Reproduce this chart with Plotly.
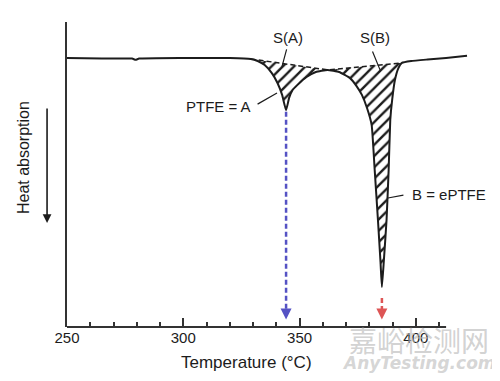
import plotly.graph_objects as go

# ---- data (temperature in °C, heat flow in arbitrary units) ----
temperature = [250, 265, 278, 279.5, 281, 300, 320, 329, 332, 335, 338, 340.5, 342.5, 344.2,
               345.5, 347, 349, 353, 357, 362, 367, 371.7, 374.5, 376.8, 379, 381, 382.3,
               383.7, 384.8, 385.4, 386.2, 387.4, 388.3, 389, 389.8, 391, 392.5, 394, 398,
               405, 413, 422]
heat_flow = [8.82, 8.80, 8.80, 8.76, 8.80, 8.82, 8.82, 8.79, 8.72, 8.59, 8.33, 8.00, 7.61, 7.11,
             7.51, 7.77, 7.93, 8.20, 8.36, 8.43, 8.36, 8.16, 7.90, 7.61, 7.18, 6.62, 5.15,
             3.51, 2.13, 1.31, 2.13, 3.51, 5.15, 6.79, 7.44, 8.10, 8.49, 8.66, 8.72,
             8.77, 8.82, 8.89]

baseline_temp = [329, 362, 394]
baseline_heat = [8.79, 8.43, 8.66]

peak_temp = [344.2, 385.4]          # A = PTFE, B = ePTFE
peak_heat = [7.11, 1.31]
peak_colors = ["#5552c4", "#dd5555"]

major_ticks = [250, 300, 350, 400]
minor_ticks = [260, 270, 280, 290, 310, 320, 330, 340, 360, 370, 380, 390, 410]
axis_start, axis_end = 250, 413
heat_top = 10

FONT = "Arial, Liberation Sans, sans-serif"
INK = "#1c1c1c"
AX = "#333333"


def region(t0, t1, b_t0, b_h0, b_t1, b_h1):
    xs = [t for t in temperature if t0 <= t <= t1]
    ys = [h for t, h in zip(temperature, heat_flow) if t0 <= t <= t1]
    return xs + [b_t1, b_t0, xs[0]], ys + [b_h1, b_h0, ys[0]]


fig = go.Figure()

# hatched areas S(A) and S(B)
for (i0, i1) in [(0, 1), (1, 2)]:
    xs, ys = region(baseline_temp[i0], baseline_temp[i1], baseline_temp[i0], baseline_heat[i0],
                    baseline_temp[i1], baseline_heat[i1])
    fig.add_trace(go.Scatter(
        x=xs, y=ys, mode="lines", fill="toself",
        fillcolor="rgba(255,255,255,0)",
        fillpattern=dict(shape="/", fgcolor=INK, bgcolor="white", size=8, solidity=0.3),
        line=dict(width=0), hoverinfo="skip", showlegend=False))

# dashed interpolated baseline
fig.add_trace(go.Scatter(x=baseline_temp, y=baseline_heat, mode="lines",
                         line=dict(color=INK, width=1.5, dash="5px,3px"), showlegend=False))

# DSC curve
fig.add_trace(go.Scatter(x=temperature, y=heat_flow, mode="lines",
                         line=dict(color=INK, width=2, shape="spline", smoothing=0.4),
                         showlegend=False))

# dashed drop lines from the peaks
drop_start = [peak_heat[0] - 0.05, 0.95]
for t, y0, c in zip(peak_temp, drop_start, peak_colors):
    fig.add_trace(go.Scatter(x=[t, t], y=[y0, 0.4], mode="lines",
                             line=dict(color=c, width=2.5, dash="5px,3px"), showlegend=False))

annotations = []
for t, c in zip(peak_temp, peak_colors):
    annotations.append(dict(x=t, y=0.25, ax=t, ay=0.6, xref="x", yref="y", axref="x", ayref="y",
                            text="", showarrow=True, arrowhead=2, arrowsize=1.1, arrowwidth=2,
                            arrowcolor=c))

# labels and leader lines
lab_font = dict(family=FONT, size=15, color=INK)
annotations += [
    dict(x=345, y=9.48, text="S(A)", showarrow=False, font=lab_font),
    dict(x=382.4, y=9.48, text="S(B)", showarrow=False, font=lab_font),
    dict(x=330.0, y=7.22, text="PTFE = A", showarrow=False, xanchor="right", font=lab_font),
    dict(x=397.5, y=4.33, text="B = ePTFE", showarrow=False, xanchor="left", font=lab_font),
]
leaders = [((344.6, 9.15), (342.4, 8.53)),
           ((381.1, 9.08), (384.6, 8.43)),
           ((331.3, 7.28), (340.3, 7.67)),
           ((395.3, 4.33), (388.0, 4.23))]
for (a, b) in leaders:
    annotations.append(dict(x=b[0], y=b[1], ax=a[0], ay=a[1], axref="x", ayref="y",
                            text="", showarrow=True, arrowhead=0,
                            arrowwidth=1.2, arrowcolor=INK))

# axis titles
annotations += [
    dict(x=327.2, y=-0.115, xref="x", yref="paper", text="Temperature (°C)", showarrow=False,
         xanchor="center", yanchor="middle", font=dict(family=FONT, size=17, color=INK)),
    dict(x=-0.108, y=5.54, xref="paper", yref="y", text="Heat absorption", textangle=-90,
         xanchor="center", yanchor="middle",
         showarrow=False, font=dict(family=FONT, size=16, color=INK)),
    dict(x=-0.049, y=3.41, xref="paper", yref="y", ax=0, ay=-116, text="", showarrow=True,
         arrowhead=2, arrowsize=1.1, arrowwidth=1.6, arrowcolor=INK),
]

# watermark
annotations += [
    dict(x=0.865, y=-0.042, xref="paper", yref="paper", text="嘉峪检测网", showarrow=False,
         xanchor="center", yanchor="middle",
         font=dict(family="Noto Sans CJK SC", size=28, color="rgba(185,185,185,0.65)")),
    dict(x=0.865, y=-0.118, xref="paper", yref="paper", text="<i><b>AnyTesting.com</b></i>",
         xanchor="center", yanchor="middle",
         showarrow=False, font=dict(family="DejaVu Sans", size=17, color="rgba(190,190,190,0.65)")),
]

# the page places the figure 8 px in from the top-left corner, so the figure is 8 px smaller
fig.update_layout(
    template="none",
    width=492, height=373,
    margin=dict(l=59, r=26, t=14, b=54, autoexpand=False),
    paper_bgcolor="white", plot_bgcolor="white",
    showlegend=False,
    xaxis=dict(range=[250, 425], automargin=False,
               showline=False, showgrid=False, zeroline=False,
               tickmode="array", tickvals=major_ticks, ticks="inside", ticklen=9, tickwidth=1.5,
               tickcolor=AX, tickfont=dict(family=FONT, size=15, color=INK),
               minor=dict(tickmode="array", tickvals=minor_ticks, ticks="inside", ticklen=5,
                          tickwidth=1.5, tickcolor=AX, showgrid=False)),
    yaxis=dict(range=[0, heat_top], automargin=False, showline=True, linecolor=AX, linewidth=2,
               showgrid=False, zeroline=False, showticklabels=False, ticks=""),
    shapes=[dict(type="line", xref="x", yref="paper", x0=axis_start, x1=axis_end, y0=0, y1=0,
                 line=dict(color=AX, width=2))],
    annotations=annotations,
)

fig.write_html("out.html")
